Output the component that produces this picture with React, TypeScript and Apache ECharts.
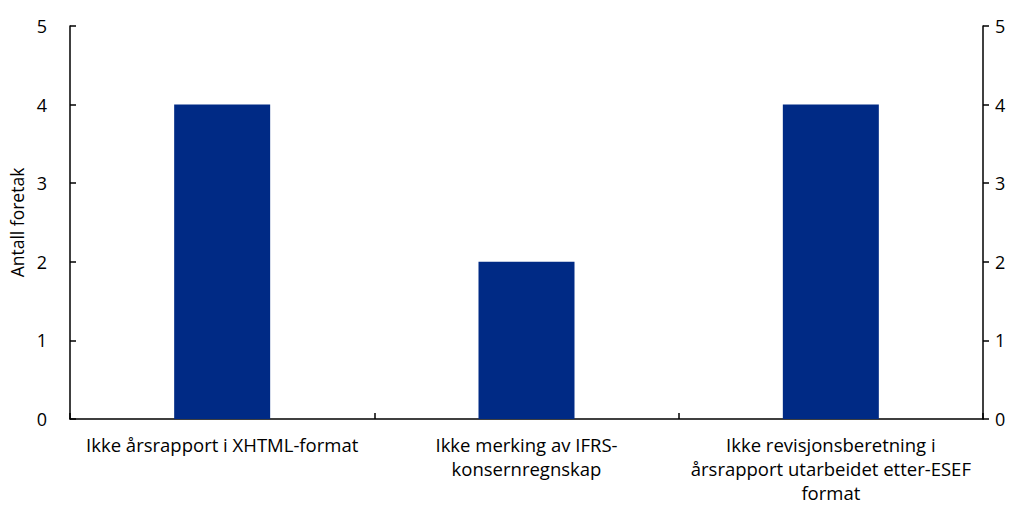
import React, { useEffect, useRef } from "react";
import * as echarts from "echarts";

const categories = [
  "Ikke årsrapport i XHTML-format",
  "Ikke merking av IFRS-\nkonsernregnskap",
  "Ikke revisjonsberetning i\nårsrapport utarbeidet etter-ESEF\nformat",
];
const values = [4, 2, 4];
const yTitle = "Antall foretak";

export default function App() {
  const ref = useRef<HTMLDivElement>(null);
  useEffect(() => {
    if (!ref.current) return;
    const chart = echarts.init(ref.current, undefined, { renderer: "svg" });
    const font = "'Open Sans', 'Noto Sans', sans-serif";
    const axisLine = { show: true, lineStyle: { color: "#000", width: 1.5 } };
    chart.setOption({
      animation: false,
      grid: { left: 70, right: 30, top: 26, bottom: 86, containLabel: false, outerBoundsMode: "none" },
      xAxis: {
        type: "category",
        data: categories,
        axisLine,
        axisTick: { show: true, inside: true, length: 6, lineStyle: { color: "#000", width: 1.5 } },
        axisLabel: {
          color: "#000",
          fontFamily: font,
          fontSize: 18.5,
          lineHeight: 24,
          margin: 13.5,
          interval: 0,
        },
      },
      yAxis: [
        {
          type: "value",
          min: 0,
          max: 5,
          interval: 1,
          name: yTitle,
          nameLocation: "middle",
          nameGap: 44,
          nameRotate: 90,
          nameTextStyle: { color: "#000", fontFamily: font, fontSize: 17.5 },
          axisLine,
          axisTick: { show: true, inside: true, length: 6, lineStyle: { color: "#000", width: 1.5 } },
          axisLabel: { color: "#000", fontFamily: font, fontSize: 18, margin: 23 },
          splitLine: { show: false },
        },
        {
          type: "value",
          min: 0,
          max: 5,
          interval: 1,
          position: "right",
          axisLine,
          axisTick: { show: true, inside: false, length: 6, lineStyle: { color: "#000", width: 1.5 } },
          axisLabel: { color: "#000", fontFamily: font, fontSize: 18, margin: 12 },
          splitLine: { show: false },
        },
      ],
      series: [
        {
          type: "bar",
          data: values,
          barWidth: 96,
          itemStyle: { color: "#002a85" },
        },
      ],
    });
    return () => chart.dispose();
  }, []);
  return <div ref={ref} style={{ width: 1013, height: 505, position: "absolute", left: 0, top: 0 }} />;
}
